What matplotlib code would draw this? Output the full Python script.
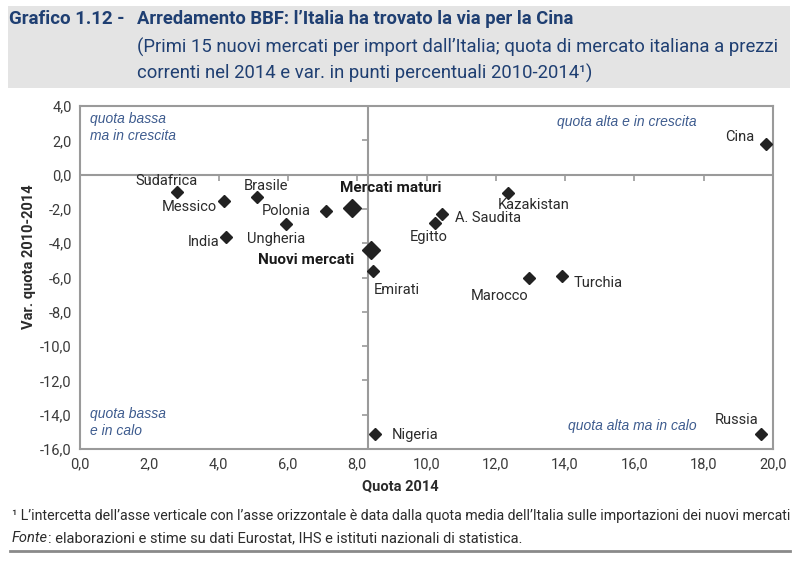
import matplotlib
matplotlib.use("Agg")
import matplotlib.pyplot as plt
from matplotlib.patches import Rectangle
from matplotlib.lines import Line2D

# ---------------- data ----------------
countries = ["Sudafrica", "Messico", "Brasile", "Polonia", "Ungheria", "India",
             "Emirati", "Kazakistan", "A. Saudita", "Egitto", "Turchia",
             "Marocco", "Cina", "Russia", "Nigeria"]
quota_2014 = [2.8, 4.15, 5.1, 7.1, 5.95, 4.2,
              8.45, 12.35, 10.45, 10.25, 13.9,
              12.95, 19.8, 19.65, 8.5]
var_quota = [-1.0, -1.55, -1.3, -2.1, -2.9, -3.65,
             -5.6, -1.05, -2.3, -2.8, -5.9,
             -6.0, 1.8, -15.1, -15.1]

aggregates = ["Mercati maturi", "Nuovi mercati"]
agg_quota = [7.85, 8.4]
agg_var = [-1.95, -4.4]

intercept_x = 8.3   # quota media nuovi mercati

x_ticks = [0, 2, 4, 6, 8, 10, 12, 14, 16, 18, 20]
y_ticks = [-16, -14, -12, -10, -8, -6, -4, -2, 0, 2, 4]

quadrant_labels = ["quota bassa\nma in crescita", "quota alta e in crescita",
                   "quota bassa\ne in calo", "quota alta ma in calo"]

# label offsets (pixels) relative to each point
label_offsets = {
    "Sudafrica": (-10, 11), "Messico": (-34, -6), "Brasile": (9, 11),
    "Polonia": (-40, 0), "Ungheria": (-10, -15), "India": (-22, -5),
    "Emirati": (24, -19), "Kazakistan": (26, -12), "A. Saudita": (46, -4),
    "Egitto": (-6, -14), "Turchia": (37, -7), "Marocco": (-29, -19),
    "Cina": (-26, 7), "Russia": (-24, 14), "Nigeria": (41, -1),
    "Mercati maturi": (39, 20), "Nuovi mercati": (-65, -10),
}

W, H = 802, 563
fig = plt.figure(figsize=(W / 100, H / 100), dpi=100)
fig.patch.set_facecolor("white")

NAVY = "#1f3f72"
GRAY_LINE = "#9a9a9a"
TXT = "#2b2b2b"
QUAD = "#3d5b8e"
NARROW = ["Liberation Sans Narrow", "Roboto", "DejaVu Sans"]
DIN = ["Roboto", "DejaVu Sans"]

# ---------------- header box ----------------
fig.patches.append(Rectangle((8 / W, 1 - 88 / H), 782 / W, 82 / H,
                             transform=fig.transFigure, facecolor="#e4e4e4",
                             edgecolor="none", zorder=0))
fig.text(9 / W, 1 - 19 / H, "Grafico 1.12 -", fontsize=13.5, fontweight="bold",
         color=NAVY, family=NARROW, va="center", ha="left")
fig.text(137 / W, 1 - 19 / H, "Arredamento BBF: l’Italia ha trovato la via per la Cina",
         fontsize=13.2, fontweight="bold", color=NAVY, family=NARROW, va="center", ha="left")
fig.text(137 / W, 1 - 47 / H,
         "(Primi 15 nuovi mercati per import dall’Italia; quota di mercato italiana a prezzi",
         fontsize=13.3, color=NAVY, family=NARROW, va="center", ha="left")
fig.text(137 / W, 1 - 73 / H,
         "correnti nel 2014 e var. in punti percentuali 2010-2014¹)",
         fontsize=13.3, color=NAVY, family=NARROW, va="center", ha="left")

# ---------------- axes ----------------
ax = fig.add_axes([80 / W, (H - 449) / H, 693 / W, 343 / H])
ax.set_xlim(0, 20)
ax.set_ylim(-16, 4)
for s in ax.spines.values():
    s.set_color(GRAY_LINE)
    s.set_linewidth(1.5)

ax.set_xticks(x_ticks)
ax.set_yticks(y_ticks)
ax.set_xticklabels([f"{v:.1f}".replace(".", ",") for v in x_ticks], family=DIN,
                   fontsize=10.5, color="#3a3a3a")
ax.set_yticklabels([f"{v:.1f}".replace(".", ",") for v in y_ticks], family=DIN,
                   fontsize=10.5, color="#3a3a3a")
ax.tick_params(axis="both", length=0, pad=6)

# crossing axes
ax.axhline(0, color=GRAY_LINE, lw=1.5, zorder=1)
ax.axvline(intercept_x, color=GRAY_LINE, lw=1.5, zorder=1)
ax.plot(x_ticks[1:], [0] * (len(x_ticks) - 1), ls="none", marker=3, ms=4,
        mew=1.2, color=GRAY_LINE, zorder=1)
ax.plot([intercept_x] * len(y_ticks), y_ticks, ls="none", marker=0, ms=4,
        mew=1.2, color=GRAY_LINE, zorder=1, clip_on=False)

# points
ax.plot(quota_2014, var_quota, ls="none", marker="D", ms=6, color="#222222",
        zorder=3, clip_on=False)
ax.plot(agg_quota, agg_var, ls="none", marker="D", ms=9, color="#222222", zorder=3)

for name, x, y in zip(countries, quota_2014, var_quota):
    ax.annotate(name, (x, y), xytext=label_offsets[name], textcoords="offset pixels",
                ha="center", va="center", fontsize=10.5, family=DIN, color=TXT)
for name, x, y in zip(aggregates, agg_quota, agg_var):
    ax.annotate(name, (x, y), xytext=label_offsets[name], textcoords="offset pixels",
                ha="center", va="center", fontsize=11, fontweight="bold",
                family=DIN, color="#1a1a1a")

# quadrant labels
qkw = dict(fontsize=10, style="italic", color=QUAD, family=["Liberation Sans", "DejaVu Sans"],
           transform=ax.transAxes)
ax.text(10 / 693, 1 - 6 / 343, quadrant_labels[0], va="top", ha="left", linespacing=1.3, **qkw)
ax.text(617 / 693, 1 - 9 / 343, quadrant_labels[1], va="top", ha="right", **qkw)
ax.text(10 / 693, 11 / 343, quadrant_labels[2], va="bottom", ha="left", linespacing=1.3, **qkw)
ax.text(617 / 693, 16 / 343, quadrant_labels[3], va="bottom", ha="right", **qkw)

# axis titles
fig.text(29 / W, 1 - 257 / H, "Var. quota 2010-2014", rotation=90, fontsize=10.5,
         fontweight="bold", family=DIN, color=TXT, va="center", ha="center")
fig.text(400 / W, 1 - 486 / H, "Quota 2014", fontsize=10.5, fontweight="bold",
         family=DIN, color=TXT, va="center", ha="center")

# ---------------- footnotes ----------------
fig.text(12 / W, 1 - 516 / H,
         "¹ L’intercetta dell’asse verticale con l’asse orizzontale è data dalla quota media dell’Italia sulle importazioni dei nuovi mercati",
         fontsize=10.2, family=NARROW, color=TXT, va="center", ha="left")
t_fonte = fig.text(12 / W, 1 - 538 / H, "Fonte", fontsize=10.5, style="italic", family=NARROW,
                   color=TXT, va="center", ha="left")
ax.annotate(": elaborazioni e stime su dati Eurostat, IHS e istituti nazionali di statistica.",
            xy=(1, 0.5), xycoords=t_fonte, va="center", ha="left",
            fontsize=10.5, family=NARROW, color=TXT, annotation_clip=False)
fig.lines.append(Line2D([10 / W, 790 / W], [1 - 551 / H, 1 - 551 / H],
                        transform=fig.transFigure, color="#8a8a8a", lw=2))

fig.savefig("out.png", dpi=100)
